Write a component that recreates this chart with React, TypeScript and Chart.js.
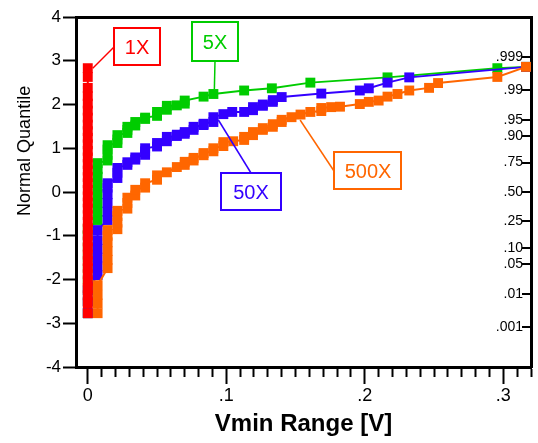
import React, { useEffect, useRef } from 'react';
import { Chart, registerables } from 'chart.js';

Chart.register(...registerables);

const FONT = 'Arial, "Liberation Sans", Helvetica, sans-serif';

// Axis ranges
const X_MIN = -0.0085;
const X_MAX = 0.32;
const Y_MIN = -4;
const Y_MAX = 4;

// Tick labels
const X_MAJOR_TICKS = [0, 0.1, 0.2, 0.3];
const X_MAJOR_LABELS = ['0', '.1', '.2', '.3'];
const PROB_LABELS = ['.001', '.01', '.05', '.10', '.25', '.50', '.75', '.90', '.95', '.99', '.999'];
const PROB_QUANTILES = [-3.09, -2.326, -1.645, -1.282, -0.674, 0, 0.674, 1.282, 1.645, 2.326, 3.09];

// Series
const SERIES_NAMES = ['1X', '5X', '50X', '500X'];
const SERIES_COLORS = ['#FF0000', '#00CC00', '#3300FF', '#FF6600'];

const DATA_1X: [number, number][] = [
  [0, -2.77], [0, -2.54], [0, -2.36], [0, -2.2], [0, -2.04], [0, -1.88], [0, -1.73], [0, -1.58],
  [0, -1.43], [0, -1.28], [0, -1.13], [0, -0.98], [0, -0.83], [0, -0.68], [0, -0.53], [0, -0.38],
  [0, -0.24], [0, -0.1], [0, 0.05], [0, 0.2], [0, 0.34], [0, 0.49], [0, 0.64], [0, 0.79],
  [0, 0.94], [0, 1.09], [0, 1.24], [0, 1.39], [0, 1.54], [0, 1.7], [0, 1.86], [0, 2.02],
  [0, 2.19], [0, 2.38], [0, 2.63], [0, 2.83],
];

const DATA_5X: [number, number][] = [
  [0, -2.77], [0, -2.5], [0, -2.25], [0, -2.0], [0, -1.75], [0, -1.5], [0, -1.25], [0, -1.0], [0, -0.85],
  [0.0071, -0.64], [0.0071, -0.45], [0.0071, -0.25], [0.0071, -0.05], [0.0071, 0.15], [0.0071, 0.35], [0.0071, 0.52], [0.0071, 0.66],
  [0.0143, 0.72], [0.0143, 0.85], [0.0143, 0.97], [0.0143, 1.07],
  [0.0214, 1.12], [0.0214, 1.2], [0.0214, 1.3],
  [0.0286, 1.35], [0.0286, 1.42], [0.0286, 1.49],
  [0.0343, 1.52], [0.0343, 1.6],
  [0.0414, 1.67], [0.0414, 1.7],
  [0.05, 1.74], [0.05, 1.83],
  [0.0571, 1.88], [0.0571, 1.97],
  [0.0643, 1.98],
  [0.07, 2.02], [0.07, 2.09],
  [0.0836, 2.18],
  [0.0907, 2.24],
  [0.1129, 2.32],
  [0.1329, 2.37],
  [0.1607, 2.5],
  [0.2164, 2.62],
  [0.2957, 2.83],
  [0.3164, 2.86],
];

const DATA_50X: [number, number][] = [
  [0, -2.77], [0, -2.5], [0, -2.25],
  [0.0071, -1.9], [0.0071, -1.7], [0.0071, -1.5], [0.0071, -1.3], [0.0071, -1.1], [0.0071, -0.87],
  [0.0143, -0.64], [0.0143, -0.45], [0.0143, -0.25], [0.0143, -0.05], [0.0143, 0.1], [0.0143, 0.2],
  [0.0214, 0.32], [0.0214, 0.44], [0.0214, 0.55],
  [0.0286, 0.62], [0.0286, 0.68],
  [0.0343, 0.74], [0.0343, 0.79],
  [0.0414, 0.85], [0.0414, 0.93], [0.0414, 1.0],
  [0.05, 1.04], [0.05, 1.12],
  [0.0571, 1.16], [0.0571, 1.26],
  [0.0643, 1.28], [0.0643, 1.31],
  [0.07, 1.33], [0.07, 1.37],
  [0.0764, 1.42], [0.0764, 1.49],
  [0.0836, 1.53], [0.0836, 1.56],
  [0.0907, 1.6], [0.0907, 1.71],
  [0.0979, 1.78],
  [0.1043, 1.83],
  [0.1129, 1.83],
  [0.1193, 1.87], [0.1193, 1.94],
  [0.1264, 1.97], [0.1264, 2.0],
  [0.1336, 2.06], [0.1336, 2.1],
  [0.14, 2.17],
  [0.1686, 2.25],
  [0.1964, 2.32],
  [0.2029, 2.37],
  [0.2164, 2.5],
  [0.2321, 2.62],
  [0.3164, 2.86],
];

const DATA_500X: [number, number][] = [
  [0.0071, -2.77], [0.0071, -2.55], [0.0071, -2.35], [0.0071, -2.13],
  [0.0143, -1.74], [0.0143, -1.55], [0.0143, -1.35], [0.0143, -1.15], [0.0143, -1.0], [0.0143, -0.87],
  [0.0214, -0.85], [0.0214, -0.7], [0.0214, -0.55], [0.0214, -0.43],
  [0.0286, -0.38], [0.0286, -0.25], [0.0286, -0.13],
  [0.0343, -0.08], [0.0343, 0.05],
  [0.0414, 0.1], [0.0414, 0.2],
  [0.05, 0.28], [0.05, 0.38],
  [0.0571, 0.45],
  [0.0643, 0.57],
  [0.07, 0.62], [0.07, 0.69],
  [0.0764, 0.72], [0.0764, 0.78],
  [0.0836, 0.84], [0.0836, 0.89],
  [0.0907, 0.93], [0.0907, 1.0],
  [0.0979, 1.05], [0.0979, 1.14],
  [0.105, 1.16],
  [0.1129, 1.19], [0.1129, 1.26],
  [0.1193, 1.3], [0.1193, 1.37],
  [0.1264, 1.42], [0.1264, 1.46],
  [0.1336, 1.49], [0.1336, 1.55],
  [0.14, 1.6], [0.14, 1.65],
  [0.1471, 1.71],
  [0.1536, 1.77],
  [0.1607, 1.83],
  [0.1686, 1.85], [0.1686, 1.92],
  [0.1757, 1.94],
  [0.1821, 1.95],
  [0.1964, 2.01],
  [0.2029, 2.06],
  [0.21, 2.09],
  [0.2164, 2.18],
  [0.2236, 2.24],
  [0.2321, 2.32],
  [0.2464, 2.38],
  [0.2529, 2.49],
  [0.2957, 2.63],
  [0.3164, 2.86],
];

const SERIES_DATA = [DATA_1X, DATA_5X, DATA_50X, DATA_500X];
// drawing order: lower = on top
const SERIES_ORDER = [0, 3, 2, 1];

// Callout annotations (positions in data units)
const NOTE_LABELS = ['1X', '5X', '50X', '500X'];
const NOTE_COLORS = ['#FF0000', '#00CC00', '#3300FF', '#FF6600'];
const NOTE_BOX_CENTERS: [number, number][] = [[0.0357, 3.32], [0.0921, 3.42], [0.1176, 0.0], [0.2024, 0.47]];
const NOTE_BOX_SIZES: [number, number][] = [[46, 37], [46, 39], [60, 37], [67, 37]];
const NOTE_TARGETS: [number, number][] = [[0.0036, 2.83], [0.0914, 2.35], [0.0943, 1.646], [0.1533, 1.646]];
const NOTE_ANCHORS = ['left', 'bottom', 'top', 'left'];

const Y_TITLE = 'Normal Quantile';
const Y_TITLE_CENTER = 0.94;
const X_TITLE = 'Vmin Range [V]';

const isMajor = (v: number) => X_MAJOR_TICKS.some((m) => Math.abs(m - v) < 1e-9);

const notesPlugin = {
  id: 'notes',
  afterDatasetsDraw(chart: any) {
    const ctx = chart.ctx as CanvasRenderingContext2D;
    const xs = chart.scales.x;
    const ys = chart.scales.y;
    ctx.save();
    NOTE_LABELS.forEach((label, i) => {
      const color = NOTE_COLORS[i];
      const cx = Math.round(xs.getPixelForValue(NOTE_BOX_CENTERS[i][0]));
      const cy = Math.round(ys.getPixelForValue(NOTE_BOX_CENTERS[i][1]));
      const [w, h] = NOTE_BOX_SIZES[i];
      const left = cx - Math.round(w / 2);
      const top = cy - Math.round(h / 2);
      let ax = cx;
      let ay = cy;
      if (NOTE_ANCHORS[i] === 'left') { ax = left; ay = cy; }
      else if (NOTE_ANCHORS[i] === 'bottom') { ax = cx; ay = top + h; }
      else if (NOTE_ANCHORS[i] === 'top') { ax = cx; ay = top; }
      const tx = xs.getPixelForValue(NOTE_TARGETS[i][0]);
      const ty = ys.getPixelForValue(NOTE_TARGETS[i][1]);
      ctx.strokeStyle = color;
      ctx.lineWidth = 1.5;
      ctx.beginPath();
      ctx.moveTo(ax, ay);
      ctx.lineTo(tx, ty);
      ctx.stroke();
      ctx.fillStyle = '#FFFFFF';
      ctx.fillRect(left, top, w, h);
      ctx.lineWidth = 2;
      ctx.strokeRect(left, top, w, h);
      ctx.fillStyle = color;
      ctx.font = `20px ${FONT}`;
      ctx.textAlign = 'center';
      ctx.textBaseline = 'middle';
      ctx.fillText(label, cx, cy + 1);
    });
    ctx.restore();
  },
};

// inward tick marks on the probability (right) axis
const probTicksPlugin = {
  id: 'probTicks',
  afterDraw(chart: any) {
    const ctx = chart.ctx as CanvasRenderingContext2D;
    const s = chart.scales.y2;
    const right = chart.chartArea.right;
    ctx.save();
    ctx.strokeStyle = '#000';
    ctx.lineWidth = 2;
    PROB_QUANTILES.forEach((q) => {
      const py = Math.round(s.getPixelForValue(q));
      ctx.beginPath();
      ctx.moveTo(right - 9, py);
      ctx.lineTo(right, py);
      ctx.stroke();
    });
    ctx.restore();
  },
};

const yTitlePlugin = {
  id: 'yTitle',
  afterDraw(chart: any) {
    const ctx = chart.ctx as CanvasRenderingContext2D;
    const ys = chart.scales.y;
    ctx.save();
    ctx.translate(chart.chartArea.left - 51, ys.getPixelForValue(Y_TITLE_CENTER));
    ctx.rotate(-Math.PI / 2);
    ctx.font = `18px ${FONT}`;
    ctx.fillStyle = '#000';
    ctx.textAlign = 'center';
    ctx.textBaseline = 'middle';
    ctx.fillText(Y_TITLE, 0, 0);
    ctx.restore();
  },
};

export default function App() {
  const canvasRef = useRef<HTMLCanvasElement | null>(null);

  useEffect(() => {
    if (!canvasRef.current) return;
    const datasets = SERIES_NAMES.map((name, i) => ({
      label: name,
      data: SERIES_DATA[i].map(([x, y]) => ({ x, y })),
      showLine: true,
      borderColor: SERIES_COLORS[i],
      backgroundColor: SERIES_COLORS[i],
      borderWidth: 2,
      pointStyle: 'rect' as const,
      pointRadius: 7,
      pointBorderWidth: 0,
      pointBackgroundColor: SERIES_COLORS[i],
      order: SERIES_ORDER[i],
      clip: false as any,
      xAxisID: 'x',
      yAxisID: 'y',
    }));

    const chart = new Chart(canvasRef.current, {
      type: 'scatter',
      data: { datasets },
      plugins: [notesPlugin, probTicksPlugin, yTitlePlugin],
      options: {
        responsive: false,
        animation: false,
        devicePixelRatio: 1,
        layout: { padding: { top: 17, left: 0, right: 0, bottom: 0 } },
        plugins: { legend: { display: false }, tooltip: { enabled: false } },
        scales: {
          x: {
            type: 'linear',
            position: 'bottom',
            min: X_MIN,
            max: X_MAX,
            afterBuildTicks: (s: any) => {
              s.ticks = Array.from({ length: 33 }, (_, i) => ({ value: i / 100 }));
            },
            afterFit: (s: any) => { s.height = 76; },
            ticks: {
              autoSkip: false,
              maxRotation: 0,
              padding: 1,
              color: '#000',
              font: { size: 18, family: FONT },
              callback: (v: any) => {
                const idx = X_MAJOR_TICKS.findIndex((m) => Math.abs(m - Number(v)) < 1e-9);
                return idx >= 0 ? X_MAJOR_LABELS[idx] : '';
              },
            },
            grid: {
              drawOnChartArea: false,
              drawTicks: true,
              tickLength: 17,
              tickWidth: 2,
              tickColor: '#000',
              tickBorderDash: (c: any) => (c.tick && isMajor(c.tick.value) ? [] : [8, 100]),
            },
            border: { display: true, width: 3, color: '#000' },
            title: {
              display: true,
              text: X_TITLE,
              color: '#000',
              font: { size: 24, weight: 'bold', family: FONT },
              padding: { top: 0, bottom: 4 },
            },
          },
          xTop: {
            type: 'linear',
            position: 'top',
            min: X_MIN,
            max: X_MAX,
            afterFit: (s: any) => { s.height = 0; },
            ticks: { display: false },
            grid: { drawOnChartArea: false, drawTicks: false },
            border: { display: true, width: 3, color: '#000' },
          },
          y: {
            type: 'linear',
            position: 'left',
            min: Y_MIN,
            max: Y_MAX,
            afterFit: (s: any) => { s.width = 76; },
            ticks: {
              stepSize: 1,
              autoSkip: false,
              padding: 2,
              color: '#000',
              font: { size: 17, family: FONT },
            },
            grid: { drawOnChartArea: false, drawTicks: true, tickLength: 13, tickWidth: 2, tickColor: '#000' },
            border: { display: true, width: 3, color: '#000' },
          },
          y2: {
            type: 'linear',
            position: 'right',
            min: Y_MIN,
            max: Y_MAX,
            afterBuildTicks: (s: any) => {
              s.ticks = PROB_QUANTILES.map((v) => ({ value: v }));
            },
            afterFit: (s: any) => { s.width = 3; },
            ticks: {
              autoSkip: false,
              mirror: true,
              padding: -8,
              color: '#000',
              font: { size: 14, family: FONT },
              callback: (_v: any, i: number) => PROB_LABELS[i] ?? '',
            },
            grid: { drawOnChartArea: false, drawTicks: false },
            border: { display: true, width: 3, color: '#000' },
          },
        },
      } as any,
    });
    return () => chart.destroy();
  }, []);

  return (
    <div style={{ position: 'absolute', left: 0, top: 0, width: 538, height: 443, background: '#fff' }}>
      <canvas ref={canvasRef} width={538} height={443} style={{ display: 'block' }} />
    </div>
  );
}
